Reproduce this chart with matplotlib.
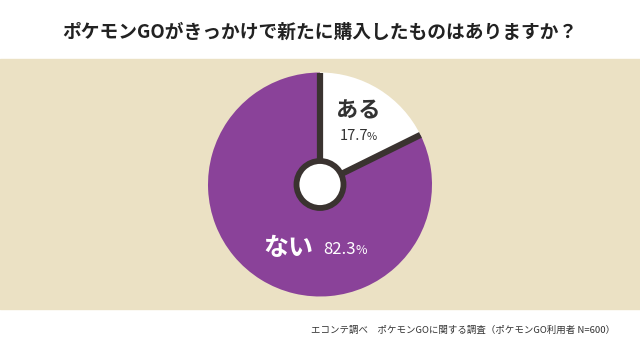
import numpy as np
import matplotlib.pyplot as plt
from matplotlib.patches import Circle, Rectangle

plt.rcParams['font.family'] = ['Noto Sans CJK JP', 'DejaVu Sans']

labels = ['ある', 'ない']
values = [17.7, 82.3]
title = 'ポケモンGOがきっかけで新たに購入したものはありますか？'
source = 'エコンテ調べ　ポケモンGOに関する調査（ポケモンGO利用者 N=600）'

purple = '#8A4299'
beige = '#EBE1C4'
dark = '#3A3330'

W, H = 640, 354
fig = plt.figure(figsize=(W / 100, H / 100), dpi=100)
ax = fig.add_axes([0, 0, 1, 1])

# beige band
ax.add_patch(Rectangle((0, H - 309), W, 250, color=beige, zorder=0))

cx, cy, r = 320, H - 184.5, 112
ax.pie(values, colors=['white', purple], startangle=90, counterclock=False,
       center=(cx, cy), radius=r, wedgeprops=dict(linewidth=0), frame=True)
ax.set_xlim(0, W)
ax.set_ylim(0, H)
ax.set_aspect('equal')
ax.axis('off')

# separator lines
angles = [90, 90 - values[0] / sum(values) * 360]
for a in angles:
    t = np.deg2rad(a)
    ax.plot([cx, cx + r * np.cos(t)], [cy, cy + r * np.sin(t)],
            color=dark, lw=4.5, solid_capstyle='butt', zorder=3)

ax.add_patch(Circle((cx, cy), 23.5, facecolor='white', edgecolor=dark,
                    lw=4.2, zorder=4))

# labels
ax.text(358, H - 111, labels[0], fontsize=16, fontweight='bold', color='#333333',
        ha='center', va='center', zorder=5)
ax.text(340, H - 136, '17.7', fontsize=10.5, color='#333333', ha='left', va='center', zorder=5)
ax.text(367, H - 137, '%', fontsize=8, color='#333333', ha='left', va='center', zorder=5)

ax.text(288, H - 248, labels[1], fontsize=18, fontweight='bold', color='white',
        ha='center', va='center', zorder=5)
ax.text(323, H - 249, '82.3', fontsize=12, color='white', ha='left', va='center', zorder=5)
ax.text(355, H - 250, '%', fontsize=9, color='white', ha='left', va='center', zorder=5)

ax.text(W / 2, H - 32, title, fontsize=13.5, fontweight='bold', color='#222222',
        ha='center', va='center')
ax.text(615, H - 330, source, fontsize=6.8, color='#333333', ha='right', va='center')

fig.savefig('out.png', dpi=100)
